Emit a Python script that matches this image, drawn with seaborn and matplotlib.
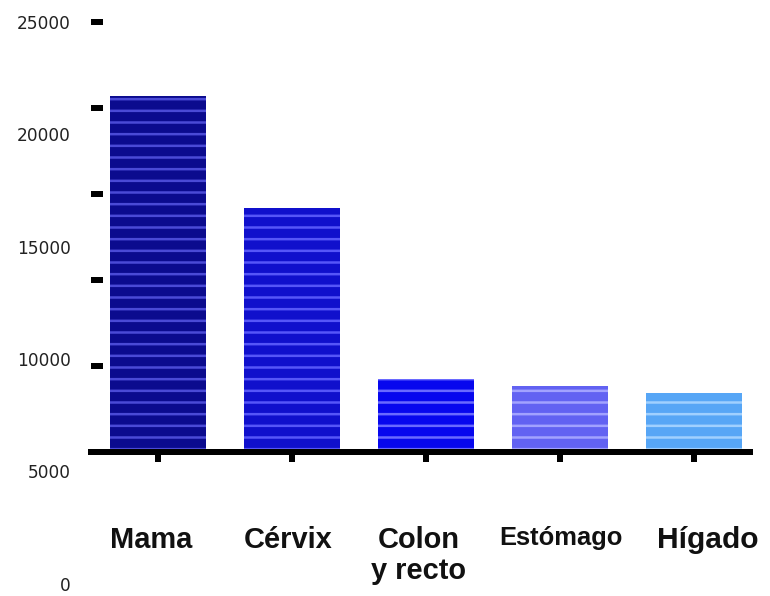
import matplotlib
matplotlib.use('Agg')
import matplotlib.pyplot as plt
import matplotlib.transforms as mtransforms
import seaborn as sns
import pandas as pd

# values (0 at the base line, 25000 at the top mark)
sitios = ['Mama', 'Cérvix', 'Colon\ny recto', 'Estómago', 'Hígado']
casos = [20700, 14150, 4250, 3850, 3450]
relleno = ['#0b0b8e', '#1010cc', '#0707ee', '#6262f2', '#57a6f6']
rayas = ['#4a4ad6', '#5656f8', '#6a6aff', '#a2a2ff', '#a0d0ff']
marcas = [0, 5000, 10000, 15000, 20000, 25000]

# low dpi so the '-' hatch lands at ~12 px spacing; sizes below given in pixels
DPI = 70
def px(v):
    return v * 72 / DPI

sns.set_theme(style='white')
plt.rcParams['hatch.linewidth'] = px(2.5)

df = pd.DataFrame({'sitio': sitios, 'casos': casos})

fig = plt.figure(figsize=(770 / DPI, 596 / DPI), dpi=DPI)
ax = fig.add_axes([91 / 770, 12 / 596, 659 / 770, 562.5 / 596])

sns.barplot(data=df, x='sitio', y='casos', hue='sitio', palette=relleno,
            legend=False, width=0.72, saturation=1, ax=ax)
for bar, c in zip(ax.patches, rayas):
    bar.set_hatch('-')
    bar.set_edgecolor(c)
    bar.set_linewidth(0)

ax.set_xlim(-0.5, 4.42)
ax.set_ylim(-7670, 25000)
ax.set_xlabel('')
ax.set_ylabel('')

for s in ['left', 'right', 'top']:
    ax.spines[s].set_visible(False)
ax.spines['bottom'].set_position(('data', 0))
ax.spines['bottom'].set_linewidth(px(6))
ax.spines['bottom'].set_color('black')

ax.set_yticks(marcas)
ax.tick_params(axis='y', left=True, direction='in', length=px(12), width=px(6),
               color='black', labelleft=False)
ax.tick_params(axis='x', bottom=True, direction='out', length=px(10), width=px(6),
               color='black', pad=px(64))

# each category label has its own look in the original
normal = ['Liberation Sans', 'DejaVu Sans']
tamanos = [29, 29, 29, 25.5, 30]
desplaz = [-7, -4, -7, 1, 14]
for lab, size, dx in zip(ax.get_xticklabels(), tamanos, desplaz):
    lab.set_fontfamily(normal)
    lab.set_fontsize(px(size))
    lab.set_fontweight('bold')
    lab.set_color('#111111')
    lab.set_linespacing(1.15)
    lab.set_transform(lab.get_transform() +
                      mtransforms.ScaledTranslation(dx / DPI, 0, fig.dpi_scale_trans))

# the number labels sit on their own (shifted) scale
ax2 = ax.twinx()
ax2.set_ylim(0, 25000)
ax2.set_yticks(marcas)
ax2.yaxis.tick_left()
ax2.tick_params(axis='y', left=True, right=False, length=0, pad=px(20),
                labelsize=px(17), labelcolor='#222222')
for s in ax2.spines.values():
    s.set_visible(False)

fig.savefig('out.png', dpi=DPI)
